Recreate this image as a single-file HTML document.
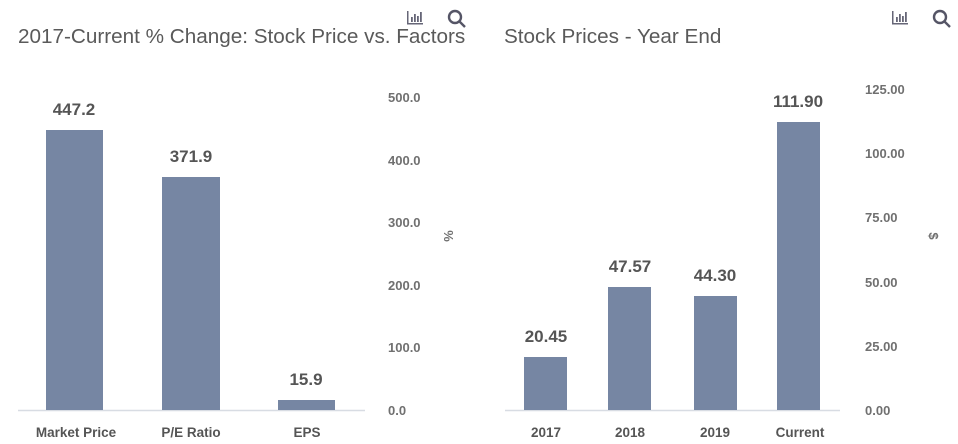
<!DOCTYPE html>
<html><head><style>
body{margin:0;background:#fff;}
svg{display:block;font-family:"Liberation Sans",sans-serif;}
.t{font-size:20.7px;fill:#5a5a5a;}
.tk{font-size:13px;fill:#707070;font-weight:bold;}
.x{font-size:13.5px;fill:#555;font-weight:bold;}
.v{font-size:17px;fill:#555;font-weight:bold;}
</style></head><body>
<svg width="958" height="444" viewBox="0 0 958 444">
<text class="t" x="18" y="43">2017-Current % Change: Stock Price vs. Factors</text>
<text class="t" x="504" y="43">Stock Prices - Year End</text>
<g fill="#667" stroke="none">
<rect x="407" y="11" width="1.5" height="13"/><rect x="407" y="23" width="16" height="1.5"/>
<rect x="411" y="17" width="1.8" height="5"/><rect x="414" y="14" width="1.8" height="8"/><rect x="417" y="16" width="1.8" height="6"/><rect x="420" y="12" width="1.8" height="10"/>
<rect x="892" y="11" width="1.5" height="13"/><rect x="892" y="23" width="16" height="1.5"/>
<rect x="896" y="17" width="1.8" height="5"/><rect x="899" y="14" width="1.8" height="8"/><rect x="902" y="16" width="1.8" height="6"/><rect x="905" y="12" width="1.8" height="10"/>
</g>
<g fill="none" stroke="#556" stroke-width="2.4">
<circle cx="455" cy="17" r="6"/><line x1="459" y1="21" x2="465" y2="27"/>
<circle cx="940" cy="17" r="6"/><line x1="944" y1="21" x2="950" y2="27"/>
</g>
<line x1="18" y1="410.5" x2="365" y2="410.5" stroke="#d8dce3" stroke-width="1.5"/>
<g fill="#7686a3">
<rect x="46" y="130" width="57" height="280"/>
<rect x="162" y="177" width="58" height="233"/>
<rect x="278" y="400" width="57" height="10"/>
</g>
<g class="v" text-anchor="middle">
<text x="74" y="115">447.2</text><text x="191" y="162">371.9</text><text x="306" y="385">15.9</text>
</g>
<g class="x" text-anchor="middle">
<text x="76" y="437">Market Price</text><text x="191" y="437">P/E Ratio</text><text x="307" y="437">EPS</text>
</g>
<g class="tk">
<text x="388" y="102">500.0</text><text x="388" y="165">400.0</text><text x="388" y="227">300.0</text>
<text x="388" y="290">200.0</text><text x="388" y="352">100.0</text><text x="388" y="415">0.0</text>
</g>
<text class="tk" font-weight="normal" transform="translate(444,236) rotate(90)" text-anchor="middle">%</text>
<line x1="505" y1="410.5" x2="840" y2="410.5" stroke="#d8dce3" stroke-width="1.5"/>
<g fill="#7686a3">
<rect x="524" y="357" width="43" height="53"/>
<rect x="608" y="287" width="43" height="123"/>
<rect x="694" y="296" width="43" height="114"/>
<rect x="777" y="122" width="43" height="288"/>
</g>
<g class="v" text-anchor="middle">
<text x="546" y="342">20.45</text><text x="630" y="272">47.57</text><text x="715" y="281">44.30</text><text x="798" y="107">111.90</text>
</g>
<g class="x" text-anchor="middle">
<text x="546" y="437">2017</text><text x="630" y="437">2018</text><text x="715" y="437">2019</text><text x="800" y="437">Current</text>
</g>
<g class="tk">
<text x="865" y="94">125.00</text><text x="865" y="158">100.00</text><text x="865" y="222">75.00</text>
<text x="865" y="287">50.00</text><text x="865" y="351">25.00</text><text x="865" y="415">0.00</text>
</g>
<text class="tk" font-weight="normal" font-size="11" transform="translate(929,236) rotate(90)" text-anchor="middle">$</text>
</svg>
</body></html>
